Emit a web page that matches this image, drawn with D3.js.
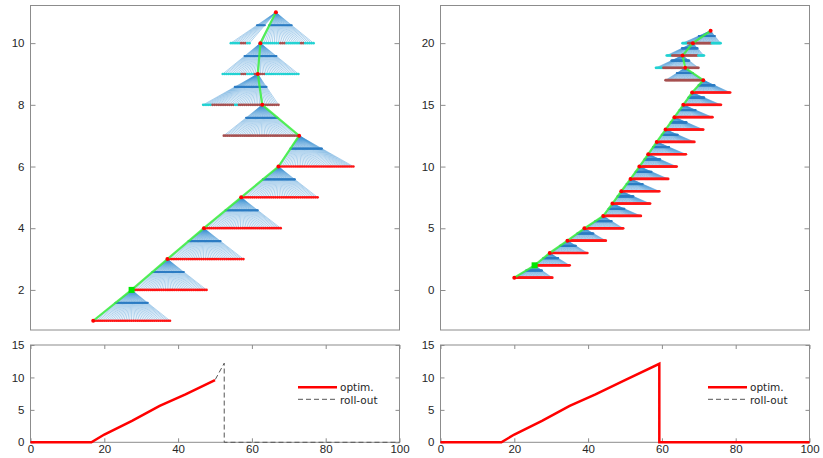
<!DOCTYPE html>
<html>
<head>
<meta charset="utf-8">
<script src="https://cdn.jsdelivr.net/npm/d3@7"></script>
<style>
  body { margin: 0; background: #fff; }
  svg { display: block; font-family: "DejaVu Sans", sans-serif; }
  .tick text { fill: #262626; font-size: 11.5px; }
  .tick line { stroke: #8c8c8c; }
</style>
</head>
<body>
<div id="chart"></div>
<script>
// ---- data: left search tree (levels 1..10 rows, path 1..11)
const leftLevels = [1, 2, 3, 4, 5, 6, 7, 8, 9, 10]
const leftRowStart = [17, 27.4, 37.1, 47, 57.1, 67.2, 52.4, 46.8, 52.1, 54.3]
const leftRowEnd = [37.8, 47.7, 57.7, 67.8, 77.8, 87.5, 72.6, 67.2, 72.6, 76.7]
const leftPath = [17, 27.4, 37.1, 47, 57.1, 67.2, 72.8, 62.8, 61.6, 62.3, 66.5]
const leftRowColors = [
  'r', 'r', 'r', 'r', 'r', 'r', 'b',
  'ccccc' + 'bbbbbbbbbbbb' + 'cc' + 'bbbbbbbbbbbbbbbbbbbbbb',
  'cccccccccc' + 'bbb' + 'cccc' + 'bbbbbb' + 'cccccccccccccccccc',
  'ccccc' + 'bbb' + 'cc' + 'nnnn' + 'cccccccccc' + 'bbb' + 'ccccccc' + 'bb' + 'ccccc'
]

// ---- data: right search tree (levels 1..20 rows, path 1..21)
const rightLevels = d3.range(1, 21)
const rightRowStart = [20, 25.5, 29.6, 34.4, 39, 44.1, 46.6, 49, 51.5, 53.9, 56.3, 58.6, 61, 63.4, 65.8, 68.2, 61, 58.4, 61.3, 65.6]
const rightRowEnd = [30.3, 35, 39.8, 44.8, 49.5, 54.3, 56.8, 59.3, 61.7, 64, 66.5, 68.8, 71.2, 73.7, 76, 78.5, 71.2, 69.9, 71.4, 75.9]
const rightPath = [20, 25.5, 29.6, 34.4, 39, 44.1, 46.6, 49, 51.5, 53.9, 56.3, 58.6, 61, 63.4, 65.8, 68.2, 71.2, 66.3, 65.6, 68.4, 73.2]
const rightRowColors = [
  'r', 'r', 'r', 'r', 'r', 'r', 'r', 'r', 'r', 'r', 'r', 'r', 'r', 'r', 'r', 'r', 'b',
  'ccccccc' + 'bbbbbbbbbbbbbbbbbbb' + 'nnn' + 'bbbbbbbbbbbb',
  'cccccc' + 'bbbbbbbbbbbbbbbbbbbbbbbbbbbb' + 'ccccccc',
  'cccccc' + 'bbbbbbbbbbbbbbbbbbbbbbbbb' + 'cccccccccc'
]
const greenLevel = 2 // highlighted node

// ---- data: speed profiles
const leftOptimX = [0, 16.5, 20, 27.5, 35, 42, 50]
const leftOptimY = [0, 0, 1.2, 3.3, 5.6, 7.4, 9.6]
const leftRollX = [0, 16.5, 20, 27.5, 35, 42, 50, 52.5, 52.5, 100]
const leftRollY = [0, 0, 1.2, 3.3, 5.6, 7.4, 9.6, 12.2, 0, 0]
const rightOptimX = [0, 16.5, 20, 27.5, 35, 42, 50, 59.3, 59.3, 100]
const rightOptimY = [0, 0, 1.2, 3.3, 5.6, 7.4, 9.6, 12.1, 0, 0]
const rightRollX = rightOptimX
const rightRollY = rightOptimY

const leftTicksY = [2, 4, 6, 8, 10]
const rightTicksY = [0, 5, 10, 15, 20]
const speedTicksY = [0, 5, 10, 15]
const speedTicksX = [0, 20, 40, 60, 80, 100]
const legendNames = ['optim.', 'roll-out']

const nDots = 41
const colorOf = { r: '#ff1414', b: '#a65050', c: '#22d2d2' }

const svg = d3.select('#chart').append('svg')
  .attr('width', 823).attr('height', 458)

function frame(x, y) {
  const [x0, x1] = x.range(), [y0, y1] = y.range()
  svg.append('rect')
    .attr('x', x0).attr('y', y1).attr('width', x1 - x0).attr('height', y0 - y1)
    .attr('fill', 'none').attr('stroke', '#8c8c8c').attr('stroke-width', 1)
}

function yAxes(x, y, ticks, size) {
  const [x0, x1] = x.range()
  svg.append('g').attr('transform', `translate(${x0},0)`)
    .call(d3.axisLeft(y).tickValues(ticks).tickSize(-size).tickPadding(6))
    .call(g => g.select('.domain').remove())
  svg.append('g').attr('transform', `translate(${x1},0)`)
    .call(d3.axisRight(y).tickValues(ticks).tickSize(-size).tickFormat(''))
    .call(g => g.select('.domain').remove())
}

function tree(x, y, levels, rowStart, rowEnd, path, rowColors) {
  frame(x, y)
  const g = svg.append('g')
  const clipId = 'c' + Math.round(x.range()[0])
  svg.append('clipPath').attr('id', clipId).append('rect')
    .attr('x', x.range()[0]).attr('y', y.range()[1])
    .attr('width', x.range()[1] - x.range()[0]).attr('height', y.range()[0] - y.range()[1])
  g.attr('clip-path', `url(#${clipId})`)

  const rows = levels.map((lv, i) => {
    const pat = rowColors[i]
    const dots = d3.range(nDots).map(j => ({
      x: rowStart[i] + j * (rowEnd[i] - rowStart[i]) / (nDots - 1),
      c: pat.length === 1 ? pat : pat[j]
    })).filter(d => d.c !== 'n')
    return { lv, ax: path[i + 1], ay: lv + 1, dots }
  })

  // fan lines
  rows.forEach(r => {
    g.append('g').selectAll('line').data(r.dots).join('line')
      .attr('x1', x(r.ax)).attr('y1', y(r.ay))
      .attr('x2', d => x(d.x)).attr('y2', y(r.lv))
      .attr('stroke', '#3f92d4').attr('stroke-opacity', 0.7).attr('stroke-width', 0.6)
  })
  // intermediate layer
  const t = 0.42
  rows.forEach(r => {
    g.append('g').selectAll('circle').data(r.dots).join('circle')
      .attr('cx', d => x(r.ax + t * (d.x - r.ax)))
      .attr('cy', y(r.ay - t))
      .attr('r', 1.1).attr('fill', '#2c7cc3')
  })
  // row nodes
  rows.forEach(r => {
    g.append('g').selectAll('circle').data(r.dots).join('circle')
      .attr('cx', d => x(d.x)).attr('cy', y(r.lv))
      .attr('r', 1.35).attr('fill', d => colorOf[d.c])
  })
  // chosen path
  const pts = path.map((px, i) => [x(px), y(i + 1)])
  g.append('path').attr('d', d3.line()(pts))
    .attr('fill', 'none').attr('stroke', '#3cf03c').attr('stroke-opacity', 0.85)
    .attr('stroke-width', 2.2)
  g.append('g').selectAll('circle').data(pts.filter((p, i) => i + 1 !== greenLevel)).join('circle')
    .attr('cx', d => d[0]).attr('cy', d => d[1]).attr('r', 2).attr('fill', '#ff0000')
  const gp = pts[greenLevel - 1]
  g.append('rect').attr('x', gp[0] - 3).attr('y', gp[1] - 3).attr('width', 6).attr('height', 6)
    .attr('fill', '#00e600')
}

function speed(x, y, optX, optY, rolX, rolY, lx, ly) {
  frame(x, y)
  yAxes(x, y, speedTicksY, 4)
  const [y0, y1] = y.range()
  svg.append('g').attr('transform', `translate(0,${y0})`)
    .call(d3.axisBottom(x).tickValues(speedTicksX).tickSize(-4).tickPadding(3))
    .call(g => g.select('.domain').remove())
  svg.append('g').attr('transform', `translate(0,${y1})`)
    .call(d3.axisTop(x).tickValues(speedTicksX).tickSize(-4).tickFormat(''))
    .call(g => g.select('.domain').remove())

  const line = d3.line().x(d => x(d[0])).y(d => y(d[1]))
  svg.append('path').attr('d', line(rolX.map((v, i) => [v, rolY[i]])))
    .attr('fill', 'none').attr('stroke', '#555').attr('stroke-width', 1)
    .attr('stroke-dasharray', '5,3')
  svg.append('path').attr('d', line(optX.map((v, i) => [v, optY[i]])))
    .attr('fill', 'none').attr('stroke', '#ff0000').attr('stroke-width', 2.5)

  // legend
  const lg = svg.append('g').attr('transform', `translate(${lx},${ly})`)
  lg.append('line').attr('x1', 0).attr('x2', 39).attr('y1', 0).attr('y2', 0)
    .attr('stroke', '#ff0000').attr('stroke-width', 2.5)
  lg.append('line').attr('x1', 0).attr('x2', 39).attr('y1', 12).attr('y2', 12)
    .attr('stroke', '#555').attr('stroke-width', 1).attr('stroke-dasharray', '5,3')
  lg.selectAll('text').data(legendNames).join('text')
    .attr('x', 42).attr('y', (d, i) => i * 12.5 + 4)
    .attr('font-size', 10.5).attr('fill', '#262626').text(d => d)
}

// scales
const xLeft = d3.scaleLinear([0, 100], [30.5, 399.5])
const xRight = d3.scaleLinear([0, 100], [440.5, 809.5])
const yTreeLeft = d3.scaleLinear([0.7, 11.22], [330, 5.5])
const yTreeRight = d3.scaleLinear([-3.24, 23.05], [330, 5.5])
const ySpeed = d3.scaleLinear([0, 15], [442.3, 345])

tree(xLeft, yTreeLeft, leftLevels, leftRowStart, leftRowEnd, leftPath, leftRowColors)
yAxes(xLeft, yTreeLeft, leftTicksY, 5)
tree(xRight, yTreeRight, rightLevels, rightRowStart, rightRowEnd, rightPath, rightRowColors)
yAxes(xRight, yTreeRight, rightTicksY, 5)

speed(xLeft, ySpeed, leftOptimX, leftOptimY, leftRollX, leftRollY, 298, 387.3)
speed(xRight, ySpeed, rightOptimX, rightOptimY, rightRollX, rightRollY, 708, 387.3)
</script>
</body>
</html>
